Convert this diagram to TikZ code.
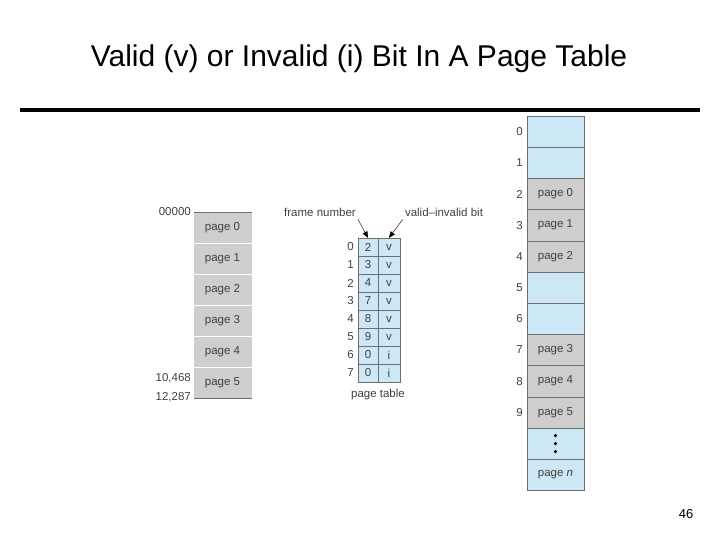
\documentclass[tikz,border=0pt]{standalone}
\usepackage{fontspec}
\setmainfont{Liberation Sans}
\usepackage{tikz}
\usetikzlibrary{arrows}
\definecolor{pageGray}{RGB}{206,206,206}
\definecolor{frameBlue}{RGB}{204,232,246}
\definecolor{lineGray}{RGB}{110,110,110}
\tikzset{
  lbl/.style={font=\fontsize{11.5}{12}\selectfont, text=black!75, inner sep=0pt},
  pagecell/.style={draw=lineGray, fill=pageGray, inner sep=0pt},
  freecell/.style={draw=lineGray, fill=frameBlue, inner sep=0pt},
  ptcell/.style={draw=lineGray, fill=frameBlue, inner sep=0pt, minimum width=20pt, minimum height=18pt}
}
\begin{document}
\begin{tikzpicture}[x=1pt,y=-1pt]
\useasboundingbox (0,0) rectangle (720,540);
\node (title) at (359,59) {\fontsize{30}{34}\selectfont Valid (v) or Invalid (i) Bit In A Page Table};
\draw[line width=3.5pt] (20,110) -- (700,110);
% logical memory
\foreach \p in {0,...,5}
  \node[pagecell, draw=white, minimum width=59pt, minimum height=31pt, lbl] (lm\p) at (222.5,227.5+31*\p) {page \p};
\draw[lineGray] (194,212) -- (252,212);
\draw[lineGray] (194,398) -- (252,398);
\node[lbl, anchor=east] (a0) at (191,212) {00000};
\node[lbl, anchor=east] (a1) at (191,378) {10,468};
\node[lbl, anchor=east] (a2) at (191,397) {12,287};
% page table
\foreach \i/\f/\v in {0/2/v,1/3/v,2/4/v,3/7/v,4/8/v,5/9/v,6/0/i,7/0/i} {
  \node[ptcell, lbl, minimum width=20pt] (f\i) at (368,247+18*\i) {\f};
  \node[ptcell, lbl, minimum width=22pt] (v\i) at (389,247+18*\i) {\v};
  \node[lbl, anchor=east] (n\i) at (354,247+18*\i) {\i};
}
\node[lbl] (ptname) at (378,395) {page table};
\node[lbl] (fn) at (320,212) {frame number};
\node[lbl] (vib) at (444,212) {valid--invalid bit};
\draw[->,>=triangle 45] (fn.south east) ++(2,3) -- (f0.north);
\draw[->,>=triangle 45] (vib.south west) ++(-2,3) -- (v0.north);
% physical memory
\foreach \k/\t in {0/,1/,2/page 0,3/page 1,4/page 2,5/,6/,7/page 3,8/page 4,9/page 5} {
  \ifx\t\empty
    \node[freecell, minimum width=57pt, minimum height=31.2pt] (pm\k) at (555.5,131.6+31.2*\k) {};
  \else
    \node[pagecell, lbl, minimum width=57pt, minimum height=31.2pt] (pm\k) at (555.5,131.6+31.2*\k) {\t};
  \fi
  \node[lbl, anchor=east] (pn\k) at (523,131.6+31.2*\k) {\k};
}
\node[freecell, minimum width=57pt, minimum height=31.2pt] (pmdots) at (555.5,443.6) {};
\foreach \d in {-8,0,8}
  \fill (555.5,443.6+\d) circle (1.8pt);
\node[freecell, lbl, minimum width=57pt, minimum height=31.2pt] (pmn) at (555.5,474.8) {page \textit{n}};
\node (slide) at (686,514) {\fontsize{13}{14}\selectfont 46};
\end{tikzpicture}
\end{document}
